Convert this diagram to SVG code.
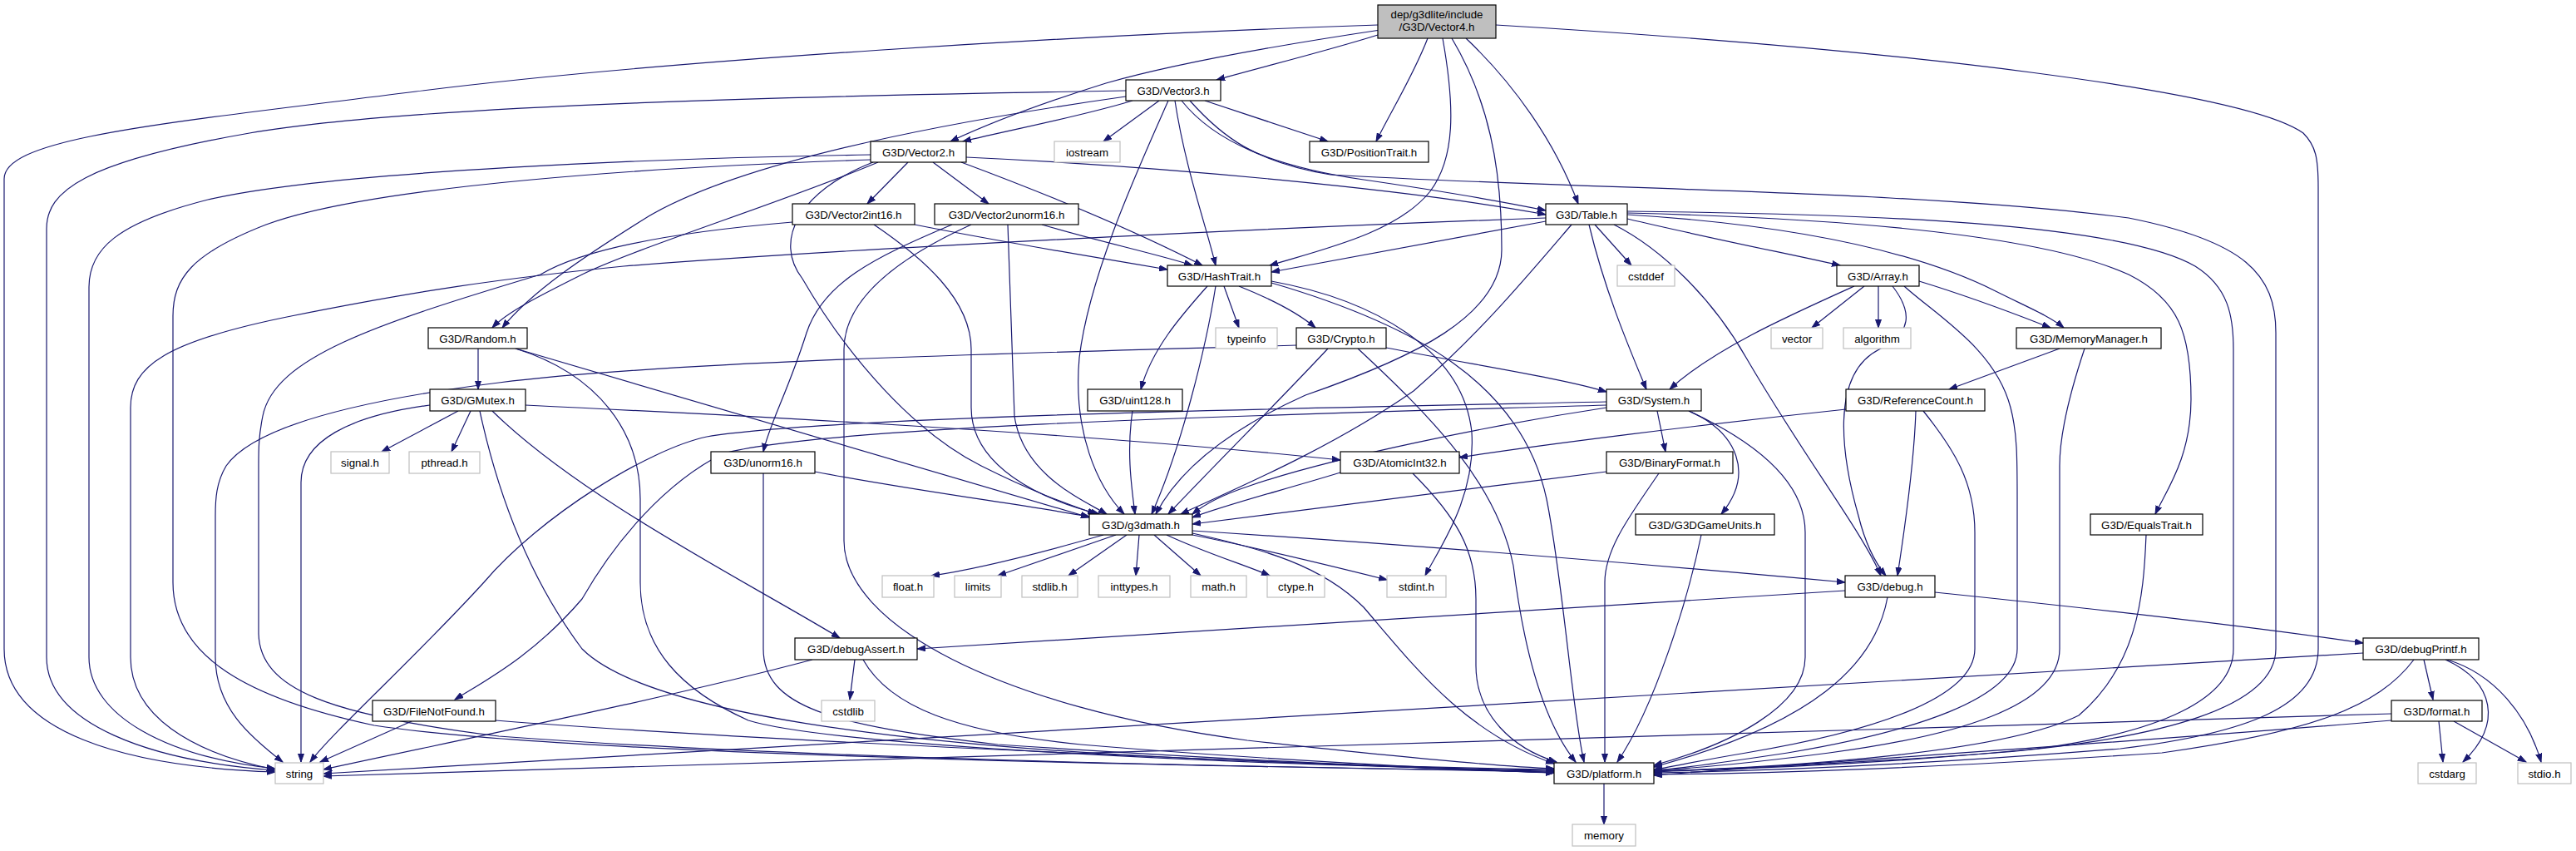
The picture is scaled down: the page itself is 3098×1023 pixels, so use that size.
<svg xmlns="http://www.w3.org/2000/svg" width="3098" height="1023" viewBox="0 0 3098 1023">
<style>
.n rect{fill:#ffffff;stroke:#000000;stroke-width:1.2}
.s rect{fill:#ffffff;stroke:#bfbfbf;stroke-width:1.2}
.r rect{fill:#bfbfbf;stroke:#000000;stroke-width:1.2}
text{font-family:"Liberation Sans",Arial,sans-serif;font-size:13.3px;fill:#000000;text-anchor:middle}
#edges path{fill:none;stroke:#191970;stroke-width:1.2;marker-end:url(#a)}
</style>
<defs>
<marker id="a" markerWidth="11" markerHeight="8" refX="10" refY="4" orient="auto" markerUnits="userSpaceOnUse">
<path d="M0,0.5 L10,4 L0,7.5 z" fill="#191970" stroke="#191970" stroke-width="1"/>
</marker>
</defs>
<rect x="0" y="0" width="3098" height="1023" fill="#ffffff"/>
<g id="edges">
<path d="M1657,30 C1300,42 800,72 500,110 C200,148 5,165 5,215 L5,780 C5,880 150,922 331,928"/>
<path d="M1657,42 C1600,60 1520,80 1463,96"/>
<path d="M1660,36 C1500,60 1400,80 1330,100 C1250,125 1190,148 1143,170"/>
<path d="M1717,46 C1700,90 1675,130 1655,170"/>
<path d="M1735,46 C1750,130 1750,190 1720,230 C1680,280 1590,300 1527,319"/>
<path d="M1746,46 C1790,120 1806,200 1806,300 C1806,380 1700,430 1570,475 C1470,520 1415,570 1390,618"/>
<path d="M1763,46 C1820,100 1870,170 1898,245"/>
<path d="M1799,30 C2300,60 2700,110 2770,160 C2785,175 2788,190 2788,225 L2788,780 C2788,850 2700,882 2550,900 C2300,920 2100,927 1989,929"/>
<path d="M1354,109 C1000,115 500,125 300,160 C100,195 56,230 56,275 L56,790 C56,870 180,915 331,926"/>
<path d="M1354,116 C1150,145 900,190 780,260 C700,310 640,350 604,394"/>
<path d="M1362,121 C1300,140 1220,155 1158,170"/>
<path d="M1394,121 L1327,170"/>
<path d="M1405,121 C1370,200 1310,330 1298,430 C1290,520 1320,585 1352,618"/>
<path d="M1413,121 C1425,200 1450,270 1462,319"/>
<path d="M1421,121 C1460,170 1530,200 1640,216 C1750,232 1820,245 1859,253"/>
<path d="M1449,121 L1597,170"/>
<path d="M1431,121 C1470,165 1510,195 1600,210 C1900,228 2300,228 2560,262 C2700,290 2737,330 2737,400 L2737,780 C2737,850 2600,888 2400,905 C2200,920 2050,925 1989,928"/>
<path d="M1047,186 C800,190 400,205 250,240 C140,268 107,300 107,345 L107,790 C107,860 200,910 331,924"/>
<path d="M1047,192 C800,200 450,222 320,270 C230,305 208,335 208,380 L208,700 C208,790 300,840 450,872 C700,910 1500,922 1869,927"/>
<path d="M1056,195 C950,240 760,300 700,330 C650,355 610,375 592,394"/>
<path d="M1092,195 L1043,245"/>
<path d="M1122,195 L1189,245"/>
<path d="M1156,195 C1250,230 1350,270 1446,319"/>
<path d="M1162,189 C1400,200 1700,228 1859,258"/>
<path d="M1050,195 C960,230 930,290 965,335 C1020,430 1100,520 1180,560 C1250,595 1290,608 1318,618"/>
<path d="M953,267 C800,280 700,300 650,330 C450,390 330,430 316,500 C311,525 311,540 311,560 L311,760 C311,830 400,860 600,885 C1000,915 1600,923 1869,928"/>
<path d="M1051,270 C1110,310 1168,360 1168,420 L1168,490 C1168,560 1250,600 1322,618"/>
<path d="M1100,270 C1200,290 1320,310 1404,324"/>
<path d="M1145,270 C1050,310 990,340 970,400 C948,470 925,510 918,543"/>
<path d="M1168,270 C1080,310 1015,360 1015,420 L1015,650 C1015,750 1200,850 1500,890 C1700,912 1800,921 1869,924"/>
<path d="M1212,270 C1215,350 1217,430 1220,500 C1230,570 1300,600 1331,618"/>
<path d="M1253,270 C1320,290 1390,305 1434,319"/>
<path d="M1859,266 L1529,327"/>
<path d="M1859,262 C1500,275 1000,300 750,320 C600,335 500,350 350,380 C200,410 157,440 157,490 L157,790 C157,860 230,905 331,925"/>
<path d="M1890,270 C1830,340 1780,400 1700,470 C1600,540 1480,590 1420,618"/>
<path d="M1911,270 C1930,350 1960,420 1980,468"/>
<path d="M1918,270 L1962,319"/>
<path d="M1941,270 C2000,300 2060,360 2100,430 C2170,550 2240,640 2262,692"/>
<path d="M1957,263 C2050,285 2150,305 2213,319"/>
<path d="M1957,258 C2150,270 2300,300 2400,350 C2440,370 2465,380 2482,394"/>
<path d="M1957,256 C2200,262 2450,280 2560,330 C2620,360 2635,400 2635,480 C2635,550 2605,590 2592,618"/>
<path d="M1957,254 C2250,257 2550,268 2640,320 C2680,345 2686,380 2686,420 L2686,780 C2686,840 2600,880 2450,900 C2250,920 2080,925 1989,927"/>
<path d="M2230,344 C2150,380 2060,420 2008,468"/>
<path d="M2242,344 L2179,394"/>
<path d="M2259,344 L2259,394"/>
<path d="M2276,344 C2300,375 2300,400 2260,420 C2200,450 2215,550 2235,620 C2245,660 2258,680 2268,692"/>
<path d="M2308,338 C2380,360 2430,380 2466,394"/>
<path d="M2290,344 C2330,380 2400,420 2418,490 C2426,520 2426,550 2426,600 L2426,780 C2426,840 2300,880 2150,905 C2050,920 2010,925 1989,926"/>
<path d="M2477,419 L2344,468"/>
<path d="M2507,419 C2490,470 2477,520 2477,560 L2477,780 C2477,850 2350,885 2200,905 C2100,918 2030,924 1989,926"/>
<path d="M2220,492 C2050,510 1850,535 1755,550"/>
<path d="M2304,494 C2302,560 2290,640 2282,692"/>
<path d="M2313,494 C2350,540 2375,580 2375,640 L2375,780 C2375,840 2250,880 2100,905 C2040,915 2010,922 1989,925"/>
<path d="M1932,483 C1600,490 1000,500 850,525 C780,540 650,620 582,700 C500,790 400,880 373,916"/>
<path d="M1932,487 C1600,497 1000,510 870,545 C800,580 740,650 700,720 C640,790 580,820 547,841"/>
<path d="M1932,490 C1800,510 1600,550 1500,585 C1470,595 1450,605 1434,618"/>
<path d="M1993,494 L2003,543"/>
<path d="M2031,494 C2090,520 2110,570 2070,618"/>
<path d="M2031,494 C2130,540 2171,590 2171,640 L2171,790 C2171,850 2080,895 1989,920"/>
<path d="M1559,415 C1200,425 800,435 600,460 C400,485 300,520 272,560 C260,580 259,600 259,620 L259,790 C259,850 300,885 340,916"/>
<path d="M1597,419 C1540,480 1460,560 1405,618"/>
<path d="M1633,419 C1720,500 1800,580 1820,680 C1830,760 1850,860 1895,916"/>
<path d="M1667,418 C1780,440 1880,455 1932,471"/>
<path d="M1452,344 C1420,380 1385,420 1372,468"/>
<path d="M1462,344 C1450,420 1420,540 1385,618"/>
<path d="M1472,344 L1490,394"/>
<path d="M1490,344 C1530,360 1560,375 1582,394"/>
<path d="M1529,338 C1650,360 1760,420 1770,520 C1775,600 1730,660 1714,692"/>
<path d="M1529,340 C1700,390 1830,460 1860,600 C1880,700 1890,850 1905,916"/>
<path d="M575,419 L575,468"/>
<path d="M620,419 L1310,622"/>
<path d="M620,419 C720,450 770,520 770,600 L770,700 C770,780 820,830 900,866 C1000,897 1500,920 1869,926"/>
<path d="M517,487 C420,500 362,530 362,580 L362,916"/>
<path d="M551,494 L459,543"/>
<path d="M566,494 L543,543"/>
<path d="M577,494 C600,600 640,700 700,780 C780,860 1100,895 1400,910 C1600,920 1800,924 1869,925"/>
<path d="M592,494 C700,600 900,700 1010,767"/>
<path d="M632,487 C900,500 1300,520 1612,553"/>
<path d="M1362,494 C1355,540 1360,580 1365,618"/>
<path d="M980,567 C1100,590 1220,605 1310,621"/>
<path d="M918,569 L918,780 C918,850 1000,872 1200,895 C1500,915 1750,925 1869,929"/>
<path d="M1612,568 C1540,590 1480,605 1434,622"/>
<path d="M1699,569 C1750,620 1775,660 1775,720 L1775,800 C1775,860 1820,900 1872,916"/>
<path d="M1932,567 C1750,590 1550,615 1434,630"/>
<path d="M1995,569 C1960,620 1930,660 1930,700 L1930,916"/>
<path d="M2046,643 C2030,720 1990,850 1945,916"/>
<path d="M2581,643 C2578,720 2570,800 2500,860 C2400,910 2100,924 1989,927"/>
<path d="M1327,643 C1250,665 1170,685 1120,692"/>
<path d="M1342,643 L1200,692"/>
<path d="M1355,643 L1285,692"/>
<path d="M1370,643 L1366,692"/>
<path d="M1388,643 L1444,692"/>
<path d="M1403,643 C1450,665 1500,680 1527,692"/>
<path d="M1434,643 C1520,660 1600,680 1668,697"/>
<path d="M1434,638 C1700,655 2000,680 2219,700"/>
<path d="M1434,641 C1520,660 1590,680 1640,730 C1700,800 1760,880 1869,918"/>
<path d="M2219,710 C1800,735 1400,760 1103,780"/>
<path d="M2327,712 C2550,735 2720,755 2842,773"/>
<path d="M2270,718 C2255,800 2180,870 1989,922"/>
<path d="M977,793 C800,840 550,890 389,925"/>
<path d="M1028,793 L1022,841"/>
<path d="M1038,793 C1070,850 1150,880 1300,895 C1500,912 1750,925 1869,929"/>
<path d="M495,867 L385,916"/>
<path d="M596,866 C900,890 1500,915 1869,929"/>
<path d="M2842,785 L389,930"/>
<path d="M2903,793 C2860,850 2780,880 2600,905 C2300,925 2100,930 1989,931"/>
<path d="M2915,793 L2926,841"/>
<path d="M2941,793 C3000,820 3010,870 2962,916"/>
<path d="M2943,793 C3000,810 3040,860 3056,916"/>
<path d="M2876,858 L389,933"/>
<path d="M2876,866 C2600,890 2200,915 1989,932"/>
<path d="M2933,867 L2938,916"/>
<path d="M2951,867 L3038,916"/>
<path d="M1929,942 L1929,991"/>
</g>
<g id="n_vector4" class="r"><rect x="1657" y="6" width="142" height="40"/><text x="1728" y="21.5">dep/g3dlite/include</text><text x="1728" y="36.5">/G3D/Vector4.h</text></g>
<g id="n_vector3" class="n"><rect x="1354" y="96" width="114" height="25"/><text x="1411" y="113.5">G3D/Vector3.h</text></g>
<g id="n_vector2" class="n"><rect x="1047" y="170" width="115" height="25"/><text x="1104.5" y="187.5">G3D/Vector2.h</text></g>
<g id="n_iostream" class="s"><rect x="1268" y="170" width="79" height="25"/><text x="1307.5" y="187.5">iostream</text></g>
<g id="n_positiontrait" class="n"><rect x="1575" y="170" width="143" height="25"/><text x="1646.5" y="187.5">G3D/PositionTrait.h</text></g>
<g id="n_vector2int16" class="n"><rect x="953" y="245" width="147" height="25"/><text x="1026.5" y="262.5">G3D/Vector2int16.h</text></g>
<g id="n_vector2unorm16" class="n"><rect x="1124" y="245" width="173" height="25"/><text x="1210.5" y="262.5">G3D/Vector2unorm16.h</text></g>
<g id="n_table" class="n"><rect x="1859" y="245" width="98" height="25"/><text x="1908" y="262.5">G3D/Table.h</text></g>
<g id="n_hashtrait" class="n"><rect x="1404" y="319" width="125" height="25"/><text x="1466.5" y="336.5">G3D/HashTrait.h</text></g>
<g id="n_cstddef" class="s"><rect x="1945" y="319" width="69" height="25"/><text x="1979.5" y="336.5">cstddef</text></g>
<g id="n_array" class="n"><rect x="2209" y="319" width="99" height="25"/><text x="2258.5" y="336.5">G3D/Array.h</text></g>
<g id="n_random" class="n"><rect x="515" y="394" width="119" height="25"/><text x="574.5" y="411.5">G3D/Random.h</text></g>
<g id="n_typeinfo" class="s"><rect x="1462" y="394" width="74" height="25"/><text x="1499" y="411.5">typeinfo</text></g>
<g id="n_crypto" class="n"><rect x="1559" y="394" width="108" height="25"/><text x="1613" y="411.5">G3D/Crypto.h</text></g>
<g id="n_vector" class="s"><rect x="2130" y="394" width="62" height="25"/><text x="2161" y="411.5">vector</text></g>
<g id="n_algorithm" class="s"><rect x="2217" y="394" width="81" height="25"/><text x="2257.5" y="411.5">algorithm</text></g>
<g id="n_memorymanager" class="n"><rect x="2425" y="394" width="174" height="25"/><text x="2512" y="411.5">G3D/MemoryManager.h</text></g>
<g id="n_gmutex" class="n"><rect x="517" y="468" width="115" height="26"/><text x="574.5" y="486">G3D/GMutex.h</text></g>
<g id="n_uint128" class="n"><rect x="1308" y="468" width="114" height="26"/><text x="1365" y="486">G3D/uint128.h</text></g>
<g id="n_system" class="n"><rect x="1932" y="468" width="114" height="26"/><text x="1989" y="486">G3D/System.h</text></g>
<g id="n_referencecount" class="n"><rect x="2220" y="468" width="167" height="26"/><text x="2303.5" y="486">G3D/ReferenceCount.h</text></g>
<g id="n_signal" class="s"><rect x="398" y="543" width="70" height="26"/><text x="433" y="561">signal.h</text></g>
<g id="n_pthread" class="s"><rect x="492" y="543" width="85" height="26"/><text x="534.5" y="561">pthread.h</text></g>
<g id="n_unorm16" class="n"><rect x="855" y="543" width="125" height="26"/><text x="917.5" y="561">G3D/unorm16.h</text></g>
<g id="n_atomicint32" class="n"><rect x="1612" y="543" width="143" height="26"/><text x="1683.5" y="561">G3D/AtomicInt32.h</text></g>
<g id="n_binaryformat" class="n"><rect x="1932" y="543" width="152" height="26"/><text x="2008" y="561">G3D/BinaryFormat.h</text></g>
<g id="n_g3dmath" class="n"><rect x="1310" y="618" width="124" height="25"/><text x="1372" y="635.5">G3D/g3dmath.h</text></g>
<g id="n_g3dgameunits" class="n"><rect x="1967" y="618" width="167" height="25"/><text x="2050.5" y="635.5">G3D/G3DGameUnits.h</text></g>
<g id="n_equalstrait" class="n"><rect x="2514" y="618" width="135" height="25"/><text x="2581.5" y="635.5">G3D/EqualsTrait.h</text></g>
<g id="n_float" class="s"><rect x="1061" y="692" width="62" height="26"/><text x="1092" y="710">float.h</text></g>
<g id="n_limits" class="s"><rect x="1148" y="692" width="56" height="26"/><text x="1176" y="710">limits</text></g>
<g id="n_stdlib" class="s"><rect x="1229" y="692" width="67" height="26"/><text x="1262.5" y="710">stdlib.h</text></g>
<g id="n_inttypes" class="s"><rect x="1321" y="692" width="86" height="26"/><text x="1364" y="710">inttypes.h</text></g>
<g id="n_math" class="s"><rect x="1432" y="692" width="67" height="26"/><text x="1465.5" y="710">math.h</text></g>
<g id="n_ctype" class="s"><rect x="1524" y="692" width="69" height="26"/><text x="1558.5" y="710">ctype.h</text></g>
<g id="n_stdint" class="s"><rect x="1668" y="692" width="71" height="26"/><text x="1703.5" y="710">stdint.h</text></g>
<g id="n_debug" class="n"><rect x="2219" y="692" width="108" height="26"/><text x="2273" y="710">G3D/debug.h</text></g>
<g id="n_debugassert" class="n"><rect x="956" y="767" width="147" height="26"/><text x="1029.5" y="785">G3D/debugAssert.h</text></g>
<g id="n_debugprintf" class="n"><rect x="2842" y="767" width="139" height="26"/><text x="2911.5" y="785">G3D/debugPrintf.h</text></g>
<g id="n_filenotfound" class="n"><rect x="448" y="842" width="148" height="25"/><text x="522" y="859.5">G3D/FileNotFound.h</text></g>
<g id="n_cstdlib" class="s"><rect x="988" y="842" width="64" height="25"/><text x="1020" y="859.5">cstdlib</text></g>
<g id="n_format" class="n"><rect x="2876" y="842" width="109" height="25"/><text x="2930.5" y="859.5">G3D/format.h</text></g>
<g id="n_string" class="s"><rect x="331" y="917" width="58" height="25"/><text x="360" y="934.5">string</text></g>
<g id="n_platform" class="n"><rect x="1869" y="917" width="120" height="25"/><text x="1929" y="934.5">G3D/platform.h</text></g>
<g id="n_cstdarg" class="s"><rect x="2908" y="917" width="70" height="25"/><text x="2943" y="934.5">cstdarg</text></g>
<g id="n_stdio" class="s"><rect x="3028" y="917" width="64" height="25"/><text x="3060" y="934.5">stdio.h</text></g>
<g id="n_memory" class="s"><rect x="1891" y="991" width="76" height="26"/><text x="1929" y="1009">memory</text></g>
</svg>
